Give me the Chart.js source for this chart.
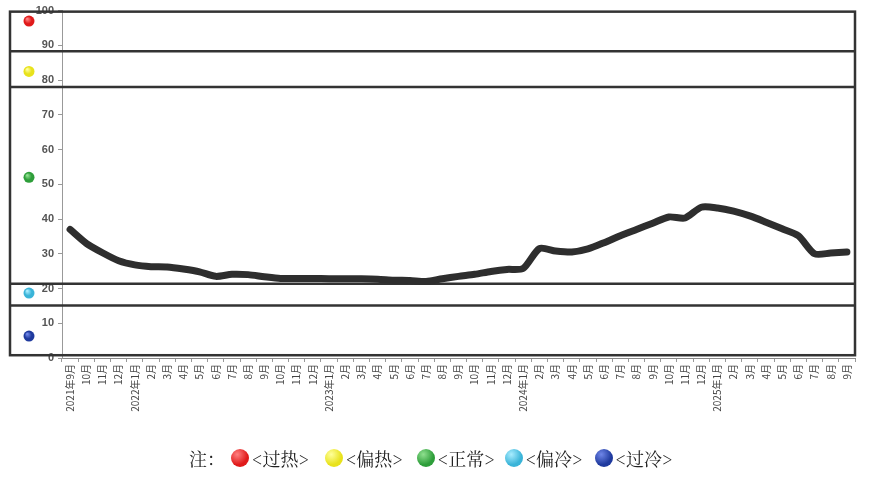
<!DOCTYPE html>
<html>
<head>
<meta charset="utf-8">
<script src="https://cdn.jsdelivr.net/npm/chart.js@4"></script>
<style>
    body { margin: 0; background: #fff; }
    #wrap { position: relative; width: 872px; height: 485px; }
    #legend {
        position: absolute; left: 189px; top: 445px;
        font-family: "Noto Serif CJK SC", "Noto Sans CJK SC", serif; font-size: 18px; color: #222;
        display: flex; align-items: center; white-space: nowrap;
    }
    .ball {
        display: inline-block; width: 18px; height: 18px; border-radius: 50%;
        margin: 0 3px 0 0;
    }
    .item { display: flex; align-items: center; margin-right: 9px; }
</style>
</head>
<body>
<div id="wrap">
    <canvas id="chart" width="872" height="485"></canvas>
    <div id="legend"></div>
</div>
<script>
// Data
const months = ['2021年9月', '10月', '11月', '12月',
    '2022年1月', '2月', '3月', '4月', '5月', '6月', '7月', '8月', '9月', '10月', '11月', '12月',
    '2023年1月', '2月', '3月', '4月', '5月', '6月', '7月', '8月', '9月', '10月', '11月', '12月',
    '2024年1月', '2月', '3月', '4月', '5月', '6月', '7月', '8月', '9月', '10月', '11月', '12月',
    '2025年1月', '2月', '3月', '4月', '5月', '6月', '7月', '8月', '9月'];

const indexValues = [37, 33, 30.3, 28,
    26.8, 26.3, 26.2, 25.6, 24.8, 23.5, 24.1, 24, 23.4, 22.9, 22.9, 22.9,
    22.8, 22.8, 22.8, 22.7, 22.4, 22.3, 22.0, 22.8, 23.5, 24.1, 24.9, 25.5,
    25.8, 31.5, 30.8, 30.5, 31.4, 33.2, 35.2, 37, 38.8, 40.6, 40.3, 43.4,
    43.2, 42.3, 40.9, 39.1, 37.2, 35.2, 30, 30.2, 30.5];

const yTicks = [0, 10, 20, 30, 40, 50, 60, 70, 80, 90, 100];

// zone boundaries (box top, separators, box bottom)
const zoneEdges = [99.7, 88.3, 78, 21.4, 15.1, 0.8];

// zone markers
const zoneNames = ['过热', '偏热', '正常', '偏冷', '过冷'];
const zoneMarkerValues = [97, 82.5, 52, 18.7, 6.3];
const zoneColors = ['#e01a1a', '#e8e21c', '#2e9e3a', '#3ab4d8', '#1f3a9e'];
const zoneHighlights = ['#ff8080', '#ffff9a', '#8fe08f', '#a8ecff', '#6f86e8'];
const legendGaps = [16, 14, 10, 12, 0];

function ballGradient(ctx, x, y, r, i) {
    const g = ctx.createRadialGradient(x - r * 0.35, y - r * 0.4, r * 0.1, x, y, r);
    g.addColorStop(0, zoneHighlights[i]);
    g.addColorStop(0.6, zoneColors[i]);
    g.addColorStop(1, zoneColors[i]);
    return g;
}

// Zone box + markers
const zonePlugin = {
    id: 'zones',
    beforeDatasetsDraw(chart) {
        const ctx = chart.ctx;
        const y = chart.scales.y;
        const left = chart.chartArea.left - 52;
        const right = chart.chartArea.right;
        ctx.save();
        ctx.strokeStyle = '#333';
        ctx.lineWidth = 2.5;
        const top = y.getPixelForValue(zoneEdges[0]);
        const bottom = y.getPixelForValue(zoneEdges[zoneEdges.length - 1]);
        ctx.strokeRect(left, top, right - left, bottom - top);
        zoneEdges.slice(1, -1).forEach(v => {
            const py = y.getPixelForValue(v);
            ctx.beginPath();
            ctx.moveTo(left, py);
            ctx.lineTo(right, py);
            ctx.stroke();
        });
        zoneMarkerValues.forEach((v, i) => {
            const px = left + 19;
            const py = y.getPixelForValue(v);
            ctx.beginPath();
            ctx.arc(px, py, 5.5, 0, Math.PI * 2);
            ctx.fillStyle = ballGradient(ctx, px, py, 5.5, i);
            ctx.fill();
        });
        ctx.restore();
    }
};

new Chart(document.getElementById('chart'), {
    type: 'line',
    data: {
        labels: months,
        datasets: [{
            data: indexValues,
            borderColor: '#2e2e2e',
            borderWidth: 7,
            pointRadius: 0,
            tension: 0.25,
            borderCapStyle: 'round',
            borderJoinStyle: 'round',
            fill: false
        }]
    },
    options: {
        responsive: false,
        animation: false,
        layout: { padding: { top: 8, right: 17, left: 0, bottom: 0 } },
        plugins: {
            legend: { display: false },
            tooltip: { enabled: false }
        },
        scales: {
            x: {
                offset: true,
                afterFit: s => { s.height = 127; },
                grid: { drawOnChartArea: false, drawTicks: true, tickLength: 4, color: '#999', offset: true },
                border: { display: true, color: '#888', width: 1 },
                ticks: {
                    autoSkip: false,
                    minRotation: 90,
                    maxRotation: 90,
                    padding: 2,
                    color: '#444',
                    font: { family: '"Noto Sans CJK SC", sans-serif', size: 10 }
                }
            },
            y: {
                min: 0,
                max: 100,
                afterFit: s => { s.width = 62; },
                afterBuildTicks: s => { s.ticks = yTicks.map(v => ({ value: v })); },
                grid: { drawOnChartArea: false, drawTicks: true, tickLength: 4, color: '#999' },
                border: { display: true, color: '#999', width: 1 },
                ticks: {
                    padding: 4,
                    color: '#555',
                    font: { family: 'Arial, "Liberation Sans", sans-serif', size: 11, weight: 'bold' }
                }
            }
        }
    },
    plugins: [zonePlugin]
});

// Legend below chart
const legend = document.getElementById('legend');
const note = document.createElement('span');
note.textContent = '注：';
note.style.marginRight = '6px';
legend.appendChild(note);
zoneNames.forEach((name, i) => {
    const item = document.createElement('span');
    item.className = 'item';
    item.style.marginRight = legendGaps[i] + 'px';
    const ball = document.createElement('span');
    ball.className = 'ball';
    ball.style.background = `radial-gradient(circle at 35% 30%, ${zoneHighlights[i]}, ${zoneColors[i]} 60%)`;
    const txt = document.createElement('span');
    txt.textContent = '<' + name + '>';
    item.appendChild(ball);
    item.appendChild(txt);
    legend.appendChild(item);
});
</script>
</body>
</html>
